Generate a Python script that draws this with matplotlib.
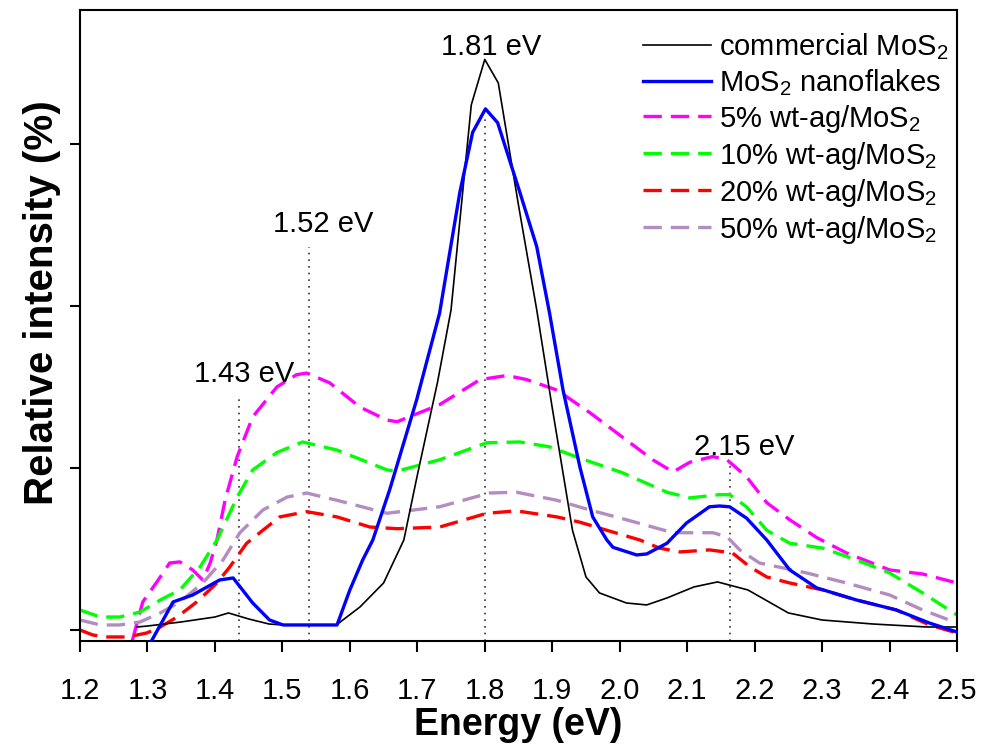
import numpy as np
import matplotlib
matplotlib.use('Agg')
import matplotlib.pyplot as plt

plt.rcParams['font.family'] = ['Liberation Sans', 'DejaVu Sans']
plt.rcParams['mathtext.default'] = 'regular'

# commercial MoS2
e_comm = [1.285, 1.30, 1.35, 1.40, 1.42, 1.45, 1.48, 1.50, 1.58, 1.615, 1.65, 1.68, 1.70,
          1.73, 1.75, 1.78, 1.80, 1.82, 1.85, 1.877, 1.90, 1.93, 1.95, 1.97, 2.01, 2.04,
          2.07, 2.11, 2.145, 2.19, 2.25, 2.30, 2.375, 2.455, 2.50]
i_comm = [0.37, 0.49, 0.99, 1.6, 2.1, 1.36, 0.74, 0.62, 0.62, 2.84, 5.8, 11.1, 19.1,
          30.6, 39.5, 64.8, 70.4, 67.5, 52.4, 39.5, 27.4, 12.3, 6.54, 4.57, 3.33, 3.09,
          3.95, 5.31, 5.93, 4.94, 2.1, 1.23, 0.74, 0.37, 0.37]

# MoS2 nanoflakes
e_nano = [1.305, 1.338, 1.367, 1.407, 1.427, 1.456, 1.481, 1.501, 1.581, 1.600, 1.619,
          1.634, 1.659, 1.699, 1.733, 1.763, 1.782, 1.801, 1.819, 1.852, 1.877, 1.896,
          1.916, 1.941, 1.960, 1.981, 1.990, 2.025, 2.040, 2.070, 2.099, 2.133, 2.148,
          2.163, 2.188, 2.218, 2.252, 2.292, 2.351, 2.410, 2.459, 2.50]
i_nano = [-1.5, 3.46, 4.32, 6.17, 6.42, 3.33, 1.23, 0.62, 0.62, 4.94, 8.64,
          11.1, 17.3, 28.4, 39.1, 54.0, 61.4, 64.3, 62.6, 54.0, 47.3, 39.1,
          29.6, 20.1, 13.95, 11.1, 10.2, 9.26, 9.38, 10.7, 13.2, 15.2, 15.3,
          15.2, 13.8, 11.1, 7.41, 5.19, 3.70, 2.47, 0.86, -0.25]

# 5% wt-ag/MoS2
e_5 = [1.20, 1.27, 1.277, 1.293, 1.314, 1.333, 1.348, 1.367, 1.382, 1.393, 1.403, 1.415,
       1.433, 1.456, 1.492, 1.521, 1.536, 1.570, 1.615, 1.655, 1.67, 1.733, 1.793, 1.833,
       1.862, 1.907, 1.956, 2.004, 2.049, 2.079, 2.104, 2.138, 2.159, 2.188, 2.218, 2.252,
       2.292, 2.336, 2.40, 2.449, 2.50]
i_5 = [-2.0, -2.0, -1.48, 3.46, 5.93, 8.27, 8.40, 7.41, 6.17, 8.27, 11.1, 16.0,
       21.4, 26.3, 30.0, 31.5, 31.7, 30.5, 27.5, 25.9, 25.7, 27.8, 30.9, 31.4,
       30.9, 29.6, 26.8, 23.8, 21.0, 19.5, 20.7, 21.4, 21.0, 18.9, 15.7, 13.6,
       11.4, 9.51, 7.41, 6.91, 5.80]

# 10% wt-ag/MoS2
e_10 = [1.20, 1.23, 1.259, 1.289, 1.319, 1.348, 1.378, 1.403, 1.433, 1.456, 1.492, 1.530,
        1.581, 1.655, 1.67, 1.733, 1.803, 1.852, 1.896, 1.941, 2.004, 2.070, 2.104, 2.148,
        2.163, 2.188, 2.218, 2.252, 2.301, 2.351, 2.40, 2.449, 2.50]
i_10 = [2.47, 1.60, 1.60, 2.22, 3.70, 4.94, 7.78, 11.1, 16.4, 19.75, 21.9, 23.2,
        22.2, 19.75, 19.6, 21.0, 23.1, 23.2, 22.6, 21.2, 19.4, 17.0, 16.3, 16.7,
        16.7, 15.2, 12.3, 10.7, 10.1, 8.64, 7.04, 4.57, 1.85]

# 20% wt-ag/MoS2
e_20 = [1.20, 1.219, 1.24, 1.27, 1.299, 1.319, 1.344, 1.373, 1.403, 1.422, 1.447, 1.471,
        1.496, 1.536, 1.581, 1.630, 1.67, 1.733, 1.803, 1.847, 1.907, 1.941, 1.981, 2.030,
        2.059, 2.089, 2.133, 2.167, 2.193, 2.218, 2.252, 2.301, 2.351, 2.410, 2.459, 2.50]
i_20 = [0.0, -0.62, -0.86, -0.86, -0.37, 0.37, 1.60, 3.46, 5.80, 7.78, 10.7, 12.3,
        13.95, 14.6, 13.95, 12.7, 12.5, 12.7, 14.4, 14.7, 13.95, 13.3, 12.3, 11.1,
        10.1, 9.63, 9.88, 9.51, 7.78, 6.54, 5.80, 4.94, 3.70, 2.47, 0.62, -0.37]

# 50% wt-ag/MoS2
e_50 = [1.20, 1.23, 1.259, 1.289, 1.319, 1.348, 1.382, 1.412, 1.437, 1.471, 1.507, 1.536,
        1.581, 1.655, 1.733, 1.807, 1.847, 1.907, 1.956, 2.010, 2.079, 2.138, 2.159, 2.178,
        2.207, 2.277, 2.336, 2.40, 2.449, 2.50]
i_50 = [1.23, 0.62, 0.62, 0.99, 2.10, 3.46, 5.80, 8.64, 12.0, 14.8, 16.4, 16.9,
        16.0, 14.4, 15.2, 16.9, 17.0, 16.0, 14.8, 13.6, 12.0, 12.0, 11.5, 9.88,
        8.27, 7.04, 5.80, 4.32, 2.47, 0.86]

# peak markers: position, top of dotted line, label text, label x, label y
peak_e = [1.436, 1.539, 1.80, 2.163]
peak_top = [28.8, 47.2, 63.0, 20.6]
peak_labels = ['1.43 eV', '1.52 eV', '1.81 eV', '2.15 eV']
label_e = [1.444, 1.56, 1.81, 2.185]
label_i = [30.6, 49.1, 71.0, 21.6]

fig = plt.figure(figsize=(9.84, 7.52), dpi=100)
ax = fig.add_axes([0.0813, 0.1476, 0.8913, 0.8391])

ymin, ymax = -1.36, 76.5

for e, top in zip(peak_e, peak_top):
    ax.plot([e, e], [ymin, top], color='#333333', lw=1.2, linestyle=(0, (1, 3)), zorder=1)

dash = (0, (5.5, 2.7))
ax.plot(e_comm, i_comm, color='black', lw=1.2, label='commercial MoS$_2$', zorder=3)
ax.plot(e_nano, i_nano, color='#0000ff', lw=2.4, label='MoS$_2$ nanoflakes', zorder=4)
ax.plot(e_5, i_5, color='#ff00ff', lw=2.4, linestyle=dash, label='5% wt-ag/MoS$_2$')
ax.plot(e_10, i_10, color='#00ff00', lw=2.4, linestyle=dash, label='10% wt-ag/MoS$_2$')
ax.plot(e_20, i_20, color='#ff0000', lw=2.4, linestyle=dash, label='20% wt-ag/MoS$_2$')
ax.plot(e_50, i_50, color='#b38cc0', lw=2.4, linestyle=dash, label='50% wt-ag/MoS$_2$')

for txt, x, y in zip(peak_labels, label_e, label_i):
    ax.text(x, y, txt, ha='center', va='baseline', fontsize=21)

ticks = np.round(np.arange(1.2, 2.51, 0.1), 1)
ax.set_xlim(1.2, 2.5)
ax.set_ylim(ymin, ymax)
ax.set_xticks(ticks)
ax.set_xticklabels(['%.1f' % t for t in ticks], fontsize=21)
ax.set_yticks([0, 20, 40, 60])
ax.set_yticklabels([])
ax.tick_params(axis='x', direction='out', length=8, width=1.5, pad=18)
ax.tick_params(axis='y', direction='out', length=7, width=1.5)
for s in ax.spines.values():
    s.set_linewidth(1.5)

ax.set_xlabel('Energy (eV)', fontsize=27, fontweight='bold', labelpad=1)
ax.set_ylabel('Relative intensity (%)', fontsize=29, fontweight='bold')
ax.yaxis.set_label_coords(-0.022, 0.536)

ax.legend(loc='upper right', bbox_to_anchor=(1.003, 0.985), borderaxespad=0, frameon=False,
          fontsize=21, handlelength=2.33, handletextpad=0.27, labelspacing=0.17)

fig.savefig('out.png', dpi=100)
